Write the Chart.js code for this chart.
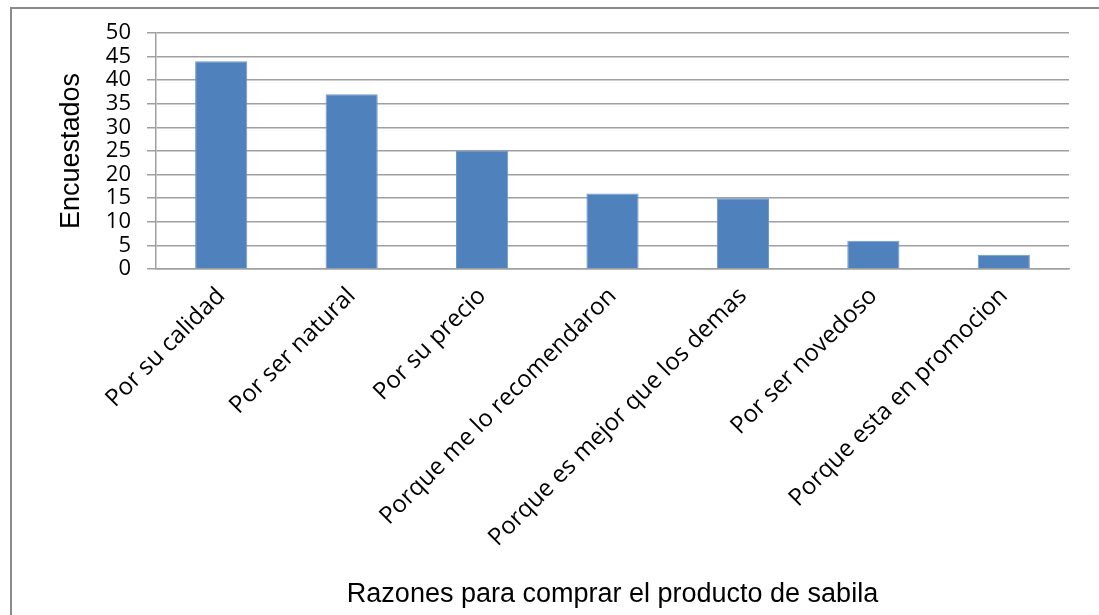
<!DOCTYPE html>
<html>
<head>
<meta charset="utf-8">
<script src="https://cdn.jsdelivr.net/npm/chart.js@4"></script>
<style>
  html, body { margin: 0; padding: 0; background: #fff; overflow: hidden; }
  #frame { position: absolute; left: 10px; top: 7px; width: 1200px; height: 700px;
           border-left: 2px solid #8a8a8a; border-top: 2px solid #8a8a8a; }
  #wrap { position: absolute; left: 0; top: 0; width: 1099px; height: 615px; }
</style>
</head>
<body>
<div id="frame"></div>
<div id="wrap"><canvas id="c" width="1099" height="615"></canvas></div>
<script>
const categories = [
  "Por su calidad",
  "Por ser natural",
  "Por su precio",
  "Porque me lo recomendaron",
  "Porque es mejor que los demas",
  "Por ser novedoso",
  "Porque esta en promocion"
];
const encuestados = [44, 37, 25, 16, 15, 6, 3];
const yTicks = [0, 5, 10, 15, 20, 25, 30, 35, 40, 45, 50];
const xTitle = "Razones para comprar el producto de sabila";
const yTitle = "Encuestados";

const LEFT_PAD = 50;
const CHART_LEFT = 156;
const CHART_BOTTOM = 269;
const BOTTOM_PAD = 2;

new Chart(document.getElementById('c'), {
  type: 'bar',
  data: {
    labels: categories,
    datasets: [{
      data: encuestados,
      backgroundColor: '#4F81BD',
      borderColor: '#6f98cc',
      borderWidth: 1,
      barPercentage: 0.4,
      categoryPercentage: 1.0
    }]
  },
  options: {
    responsive: false,
    animation: false,
    devicePixelRatio: 1,
    layout: { padding: { left: LEFT_PAD, right: 30, top: 33, bottom: BOTTOM_PAD } },
    plugins: { legend: { display: false }, tooltip: { enabled: false } },
    scales: {
      x: {
        grid: { display: false, drawTicks: false },
        border: { display: true, color: '#a0a0a0', width: 1.5 },
        ticks: {
          color: '#000',
          font: { family: 'Open Sans', size: 24 },
          maxRotation: 45, minRotation: 45,
          autoSkip: false,
          padding: 13
        },
        title: {
          display: true, text: xTitle, color: '#000',
          font: { family: 'Liberation Sans', size: 27 },
          padding: { top: 0, bottom: 2 }
        },
        afterFit(scale) { scale.height = 615 - CHART_BOTTOM - BOTTOM_PAD; }
      },
      y: {
        min: 0, max: 50,
        afterBuildTicks(scale) { scale.ticks = yTicks.map(v => ({ value: v })); },
        grid: { color: '#a0a0a0', lineWidth: 1.5, tickLength: 9 },
        border: { display: true, color: '#a0a0a0', width: 1.5 },
        ticks: {
          color: '#000',
          font: { family: 'Open Sans', size: 22, lineHeight: 1 },
          autoSkip: false,
          padding: 16
        },
        title: {
          display: true, text: yTitle, color: '#000',
          font: { family: 'Liberation Sans', size: 27 },
          padding: { top: 5, bottom: 0 }
        },
        afterFit(scale) { scale.width = CHART_LEFT - LEFT_PAD; }
      }
    }
  }
});
</script>
</body>
</html>
